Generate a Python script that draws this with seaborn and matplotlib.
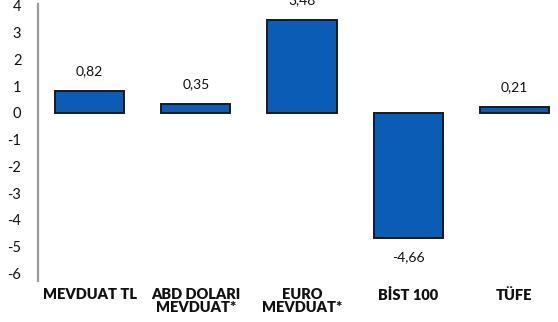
import matplotlib
matplotlib.use("Agg")
import matplotlib.pyplot as plt
import seaborn as sns
import pandas as pd

categories = ["MEVDUAT TL", "ABD DOLARI\nMEVDUAT*", "EURO\nMEVDUAT*", "BİST 100", "TÜFE"]
values = [0.82, 0.35, 3.48, -4.66, 0.21]
yticks = [4, 3, 2, 1, 0, -1, -2, -3, -4, -5, -6]

sns.set_theme(style="white")
plt.rcParams["font.family"] = ["Lato", "DejaVu Sans"]

df = pd.DataFrame({"kategori": categories, "getiri": values})

fig = plt.figure(figsize=(5.58, 3.22), dpi=100)
ax = fig.add_axes([38 / 558, 1 - 281 / 322, 1 - 38 / 558, (281 - 4) / 322])

sns.barplot(data=df, x="kategori", y="getiri", color="#0B5CB5", saturation=1,
            edgecolor="#1a1a1a", linewidth=1.4, width=0.65, ax=ax)

ax.set_xlim(-0.485, 4.41)
ax.set_ylim(-6.28, 4.07)
ax.set_yticks(yticks)
ax.set_yticklabels([str(t) for t in yticks], fontsize=10.5, color="#111111")
ax.tick_params(axis="y", length=0, pad=12)
ax.tick_params(axis="x", length=0, pad=5)
for lbl in ax.get_xticklabels():
    lbl.set_fontweight("heavy")
    lbl.set_fontsize(10.5)
    lbl.set_color("#111111")
    lbl.set_linespacing(1.05)

ax.set_xlabel("")
ax.set_ylabel("")
for side in ["top", "right", "bottom"]:
    ax.spines[side].set_visible(False)
ax.spines["left"].set_color("#9a9a9a")
ax.spines["left"].set_linewidth(1.6)

labels = [f"{v:.2f}".replace(".", ",") for v in values]
container = ax.containers[0]
ax.bar_label(container, labels=labels, padding=10, fontsize=10, color="#111111",
             clip_on=False)

fig.savefig("out.png", dpi=100)
